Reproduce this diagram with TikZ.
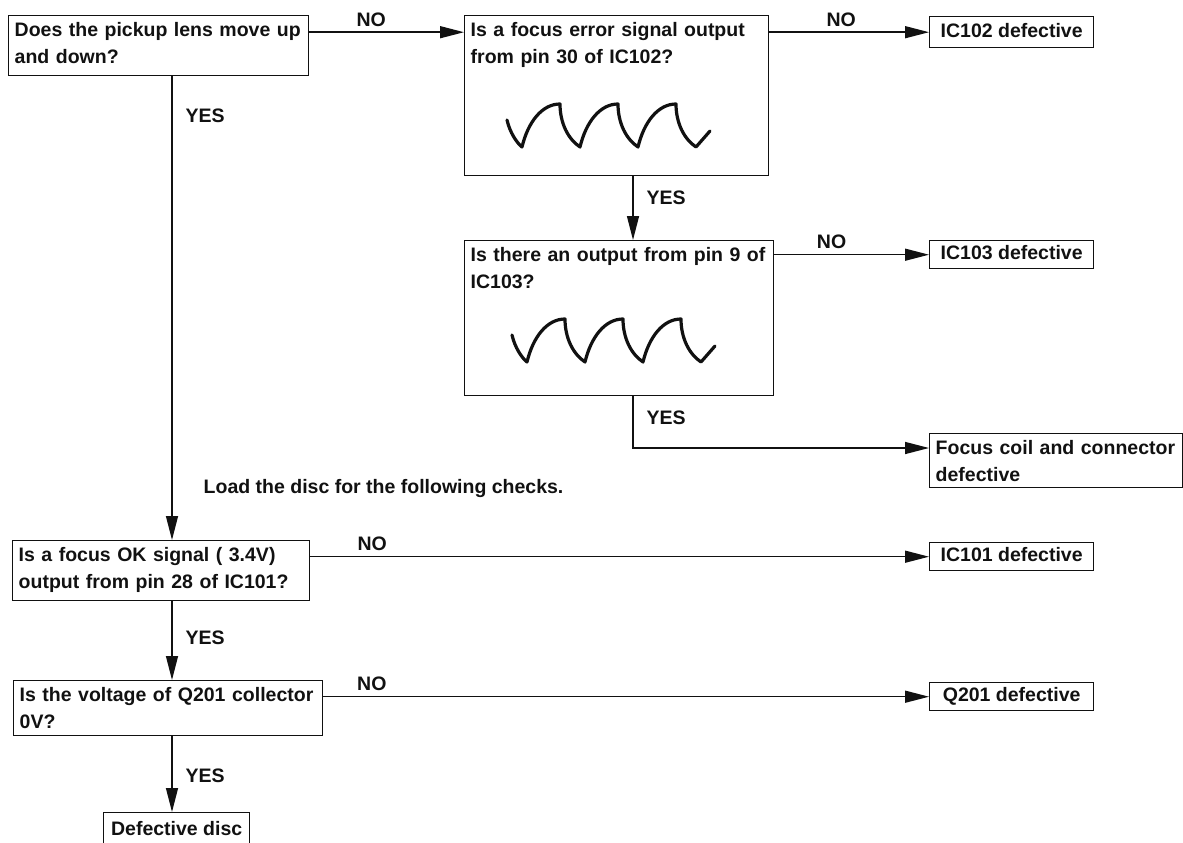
\documentclass[tikz,border=0pt]{standalone}
\usepackage{fontspec}
\setmainfont{Liberation Sans}
\usepackage{tikz}
\usetikzlibrary{arrows.meta, calc}
\definecolor{my_ink}{HTML}{111111}

% scope trace drawn inside the test boxes
\tikzset{
    wave/.pic={
        \draw[wavepen] (-15,-27) .. controls (-12,-14) and (-5,-4) .. (0,0)
            \foreach \k in {0,1,2} {
                .. controls ({58*\k+6},-25) and ({58*\k+20},-43) .. ({58*\k+38},-43)
                .. controls ({58*\k+38},-24) and ({58*\k+46},-8) .. ({58*\k+58},0)
            }
            -- (188,-16);
    }
}

\begin{document}
\begin{tikzpicture}[
    x=1pt, y=-1pt,  % one unit = one pixel of the sheet, y runs down
    font={\fontsize{19.5}{27}\selectfont\bfseries},
    draw=my_ink, text=my_ink,
    line width=1.4pt,
    qbox/.style={draw, anchor=north west, align=left,
        inner xsep=6pt, inner ysep=7pt, text height=14pt},
    rbox/.style={draw, anchor=north west, inner xsep=6pt, inner ysep=5pt,
        text height=14pt, text depth=4pt, minimum width=164pt},
    arr/.style={-{Triangle[length=24pt,width=12pt]}},
    nolbl/.style={anchor=south, inner sep=0pt, yshift=5pt},
    yeslbl/.style={anchor=west, inner sep=0pt, xshift=13pt},
    wavepen/.style={line width=3.2pt, line cap=round, line join=round},
]

% ── Sheet ─────────────────────────────────────────────────────────────────────
\path[use as bounding box, clip] (0,0) rectangle (1183,843);

% ── Question boxes ───────────────────────────────────────────────────────────
\node[qbox, text width=288pt, text depth=32pt] (q_lens) at (8,15)
    {Does the pickup lens move up\\and down?};
\node[qbox, text width=292pt, text depth=132pt] (q_ferr) at (464,15)
    {Is a focus error signal output\\from pin 30 of IC102?};
\node[qbox, text width=297pt, text depth=127pt] (q_pin9) at (464,240)
    {Is there an output from pin 9 of\\IC103?};
\node[qbox, text width=285pt, text depth=32pt] (q_fok) at (12,540)
    {Is a focus OK signal ( 3.4V)\\output from pin 28 of IC101?};
\node[qbox, text width=297pt, text depth=27pt] (q_q201) at (13,680)
    {Is the voltage of Q201 collector\\0V?};

% ── Result boxes ─────────────────────────────────────────────────────────────
\node[rbox, minimum height=31pt] (r_ic102) at (929,16) {IC102 defective};
\node[rbox] (r_ic103) at (929,240) {IC103 defective};
\node[qbox, text width=241pt, text depth=26pt] (r_coil) at (929,433)
    {Focus coil and connector\\defective};
\node[rbox] (r_ic101) at (929,542) {IC101 defective};
\node[rbox] (r_q201) at (929,682) {Q201 defective};
\node[rbox, minimum width=146pt, minimum height=36pt] (r_disc) at (103,812)
    {Defective disc};

% ── Waveforms ────────────────────────────────────────────────────────────────
\pic at (522,147) {wave};
\pic at (527,362) {wave};

% ── Note ─────────────────────────────────────────────────────────────────────
\node[anchor=base west, inner sep=0pt] (note_load) at (203,493)
    {Load the disc for the following checks.};

% ── Connectors ───────────────────────────────────────────────────────────────
\coordinate (col_l) at (172,0);
\coordinate (col_r) at (633,0);
\coordinate (coil_in) at ([yshift=-15pt]r_coil.north west);

\draw[arr] (q_lens.east |- r_ic102.west) -- node[nolbl, pos=0.40] {NO}
    (q_ferr.west |- r_ic102.west);
\draw[arr] (q_ferr.east |- r_ic102.west) -- node[nolbl, pos=0.45] {NO}
    (r_ic102.west);
\draw[arr] (q_ferr.south -| col_r) -- node[yeslbl, pos=0.34] {YES}
    (q_pin9.north -| col_r);
\draw[arr] (q_pin9.east |- r_ic103.west) -- node[nolbl, pos=0.37] {NO}
    (r_ic103.west);
\draw[arr] (q_pin9.south -| col_r) |- node[yeslbl, pos=0.21] {YES}
    (coil_in);
\draw[arr] (q_lens.south -| col_l) -- node[yeslbl, pos=0.086] {YES}
    (q_fok.north -| col_l);
\draw[arr] (q_fok.east |- r_ic101.west) -- node[nolbl, pos=0.10] {NO}
    (r_ic101.west);
\draw[arr] (q_fok.south -| col_l) -- node[yeslbl, pos=0.46] {YES}
    (q_q201.north -| col_l);
\draw[arr] (q_q201.east |- r_q201.west) -- node[nolbl, pos=0.08] {NO}
    (r_q201.west);
\draw[arr] (q_q201.south -| col_l) -- node[yeslbl, pos=0.52] {YES}
    (r_disc.north -| col_l);

\end{tikzpicture}
\end{document}
